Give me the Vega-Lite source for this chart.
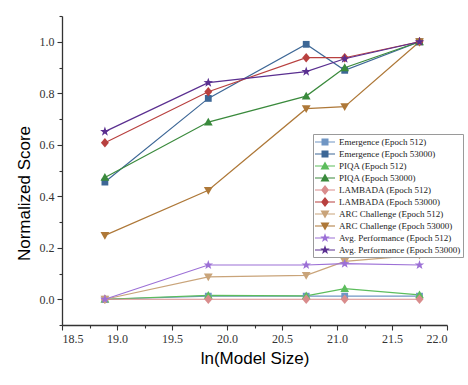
{
  "$schema": "https://vega.github.io/schema/vega-lite/v6.json",
  "autosize": "none",
  "width": 385,
  "height": 309,
  "padding": {"left": 62, "top": 16, "right": 21, "bottom": 60},
  "background": "white",
  "config": {
    "view": {"stroke": null},
    "axis": {"grid": false, "domainColor": "#333333", "domainWidth": 1.3, "tickColor": "#333333", "tickWidth": 1.1, "labelColor": "#333333", "titleColor": "#000000"}
  },
  "datasets": {
    "main": [
      {"series": "Emergence (Epoch 512)", "x": 18.89, "y": 0},
      {"series": "Emergence (Epoch 512)", "x": 19.83, "y": 0.012},
      {"series": "Emergence (Epoch 512)", "x": 20.72, "y": 0.012},
      {"series": "Emergence (Epoch 512)", "x": 21.07, "y": 0.012},
      {"series": "Emergence (Epoch 512)", "x": 21.75, "y": 0.012},
      {"series": "Emergence (Epoch 53000)", "x": 18.89, "y": 0.455},
      {"series": "Emergence (Epoch 53000)", "x": 19.83, "y": 0.78},
      {"series": "Emergence (Epoch 53000)", "x": 20.72, "y": 0.99},
      {"series": "Emergence (Epoch 53000)", "x": 21.07, "y": 0.889},
      {"series": "Emergence (Epoch 53000)", "x": 21.75, "y": 1.0},
      {"series": "PIQA (Epoch 512)", "x": 18.89, "y": 0},
      {"series": "PIQA (Epoch 512)", "x": 19.83, "y": 0.015},
      {"series": "PIQA (Epoch 512)", "x": 20.72, "y": 0.013},
      {"series": "PIQA (Epoch 512)", "x": 21.07, "y": 0.041},
      {"series": "PIQA (Epoch 512)", "x": 21.75, "y": 0.017},
      {"series": "PIQA (Epoch 53000)", "x": 18.89, "y": 0.473},
      {"series": "PIQA (Epoch 53000)", "x": 19.83, "y": 0.688},
      {"series": "PIQA (Epoch 53000)", "x": 20.72, "y": 0.789},
      {"series": "PIQA (Epoch 53000)", "x": 21.07, "y": 0.899},
      {"series": "PIQA (Epoch 53000)", "x": 21.75, "y": 1.0},
      {"series": "LAMBADA (Epoch 512)", "x": 18.89, "y": 0},
      {"series": "LAMBADA (Epoch 512)", "x": 19.83, "y": 0},
      {"series": "LAMBADA (Epoch 512)", "x": 20.72, "y": 0},
      {"series": "LAMBADA (Epoch 512)", "x": 21.07, "y": 0},
      {"series": "LAMBADA (Epoch 512)", "x": 21.75, "y": 0},
      {"series": "LAMBADA (Epoch 53000)", "x": 18.89, "y": 0.608},
      {"series": "LAMBADA (Epoch 53000)", "x": 19.83, "y": 0.806},
      {"series": "LAMBADA (Epoch 53000)", "x": 20.72, "y": 0.938},
      {"series": "LAMBADA (Epoch 53000)", "x": 21.07, "y": 0.938},
      {"series": "LAMBADA (Epoch 53000)", "x": 21.75, "y": 1.0},
      {"series": "ARC Challenge (Epoch 512)", "x": 18.89, "y": 0},
      {"series": "ARC Challenge (Epoch 512)", "x": 19.83, "y": 0.087},
      {"series": "ARC Challenge (Epoch 512)", "x": 20.72, "y": 0.093},
      {"series": "ARC Challenge (Epoch 512)", "x": 21.07, "y": 0.147},
      {"series": "ARC Challenge (Epoch 512)", "x": 21.75, "y": 0.171},
      {"series": "ARC Challenge (Epoch 53000)", "x": 18.89, "y": 0.248},
      {"series": "ARC Challenge (Epoch 53000)", "x": 19.83, "y": 0.423},
      {"series": "ARC Challenge (Epoch 53000)", "x": 20.72, "y": 0.74},
      {"series": "ARC Challenge (Epoch 53000)", "x": 21.07, "y": 0.748},
      {"series": "ARC Challenge (Epoch 53000)", "x": 21.75, "y": 1.0},
      {"series": "Avg. Performance (Epoch 512)", "x": 18.89, "y": 0},
      {"series": "Avg. Performance (Epoch 512)", "x": 19.83, "y": 0.133},
      {"series": "Avg. Performance (Epoch 512)", "x": 20.72, "y": 0.133},
      {"series": "Avg. Performance (Epoch 512)", "x": 21.07, "y": 0.138},
      {"series": "Avg. Performance (Epoch 512)", "x": 21.75, "y": 0.133},
      {"series": "Avg. Performance (Epoch 53000)", "x": 18.89, "y": 0.651},
      {"series": "Avg. Performance (Epoch 53000)", "x": 19.83, "y": 0.841},
      {"series": "Avg. Performance (Epoch 53000)", "x": 20.72, "y": 0.884},
      {"series": "Avg. Performance (Epoch 53000)", "x": 21.07, "y": 0.934},
      {"series": "Avg. Performance (Epoch 53000)", "x": 21.75, "y": 1.0}
    ]
  },
  "resolve": {
    "scale": {"color": "independent", "shape": "independent"},
    "axis": {"x": "independent", "y": "independent"}
  },
  "layer": [
    {
      "data": {"name": "main"},
      "mark": {"type": "line", "strokeWidth": 1.2},
      "encoding": {
        "x": {"field": "x", "type": "quantitative", "scale": {"domain": [18.5, 22.0], "nice": false, "zero": false},
          "axis": {"orient": "bottom", "values": [18.5, 19, 19.5, 20, 20.5, 21, 21.5, 22], "format": ".1f", "tickSize": 5, "labelPadding": 3, "labelFont": "Liberation Serif", "labelFontSize": 12, "title": "ln(Model Size)", "titleFont": "Liberation Sans", "titleFontSize": 17, "titleFontWeight": "normal", "titlePadding": 6}},
        "y": {"field": "y", "type": "quantitative", "scale": {"domain": [-0.1, 1.1], "nice": false, "zero": false},
          "axis": {"orient": "left", "values": [0, 0.2, 0.4, 0.6, 0.8, 1.0], "format": ".1f", "tickSize": 5, "labelPadding": 3, "labelFont": "Liberation Serif", "labelFontSize": 12, "title": "Normalized Score", "titleFont": "Liberation Sans", "titleFontSize": 17, "titleFontWeight": "normal", "titlePadding": 6, "titleY": 177}},
        "color": {"field": "series", "type": "nominal", "legend": null,
          "scale": {"domain": ["Emergence (Epoch 512)", "Emergence (Epoch 53000)", "PIQA (Epoch 512)", "PIQA (Epoch 53000)", "LAMBADA (Epoch 512)", "LAMBADA (Epoch 53000)", "ARC Challenge (Epoch 512)", "ARC Challenge (Epoch 53000)", "Avg. Performance (Epoch 512)", "Avg. Performance (Epoch 53000)"],
            "range": ["#7096c4", "#3d6796", "#5cbd5c", "#3a8a3c", "#d98c8c", "#b8403f", "#c9a47a", "#ae7838", "#9c70d6", "#5a2f90"]}}
      }
    },
    {
      "data": {"name": "main"},
      "mark": {"type": "point", "filled": true, "opacity": 1, "size": 64},
      "encoding": {
        "x": {"field": "x", "type": "quantitative", "scale": {"domain": [18.5, 22.0], "nice": false, "zero": false}, "axis": null},
        "y": {"field": "y", "type": "quantitative", "scale": {"domain": [-0.1, 1.1], "nice": false, "zero": false}, "axis": null},
        "color": {"field": "series", "type": "nominal", "legend": null,
          "scale": {"domain": ["Emergence (Epoch 512)", "Emergence (Epoch 53000)", "PIQA (Epoch 512)", "PIQA (Epoch 53000)", "LAMBADA (Epoch 512)", "LAMBADA (Epoch 53000)", "ARC Challenge (Epoch 512)", "ARC Challenge (Epoch 53000)", "Avg. Performance (Epoch 512)", "Avg. Performance (Epoch 53000)"],
            "range": ["#7096c4", "#3d6796", "#5cbd5c", "#3a8a3c", "#d98c8c", "#b8403f", "#c9a47a", "#ae7838", "#9c70d6", "#5a2f90"]}},
        "shape": {"field": "series", "type": "nominal", "legend": null,
          "scale": {"domain": ["Emergence (Epoch 512)", "Emergence (Epoch 53000)", "PIQA (Epoch 512)", "PIQA (Epoch 53000)", "LAMBADA (Epoch 512)", "LAMBADA (Epoch 53000)", "ARC Challenge (Epoch 512)", "ARC Challenge (Epoch 53000)", "Avg. Performance (Epoch 512)", "Avg. Performance (Epoch 53000)"],
            "range": ["M-0.85,-0.85H0.85V0.85H-0.85Z", "M-0.85,-0.85H0.85V0.85H-0.85Z", "M0,-1.1L1.1,0.85H-1.1Z", "M0,-1.1L1.1,0.85H-1.1Z", "M0,-1.2L1,0L0,1.2L-1,0Z", "M0,-1.2L1,0L0,1.2L-1,0Z", "M0,1.1L-1.1,-0.85H1.1Z", "M0,1.1L-1.1,-0.85H1.1Z", "M0,-1.25L0.2939,-0.4045L1.1889,-0.3863L0.4755,0.1545L0.7347,1.0113L0,0.5L-0.7347,1.0113L-0.4755,0.1545L-1.1889,-0.3863L-0.2939,-0.4045Z", "M0,-1.25L0.2939,-0.4045L1.1889,-0.3863L0.4755,0.1545L0.7347,1.0113L0,0.5L-0.7347,1.0113L-0.4755,0.1545L-1.1889,-0.3863L-0.2939,-0.4045Z"]}}
      }
    },
    {
      "data": {"name": "main"},
      "mark": {"type": "point", "opacity": 0},
      "encoding": {
        "x": {"field": "x", "type": "quantitative", "scale": {"domain": [18.5, 22.0], "nice": false, "zero": false},
          "axis": {"orient": "bottom", "values": [18.75, 19.25, 19.75, 20.25, 20.75, 21.25, 21.75], "labels": false, "domain": false, "tickSize": 3, "title": null}},
        "y": {"field": "y", "type": "quantitative", "scale": {"domain": [-0.1, 1.1], "nice": false, "zero": false},
          "axis": {"orient": "left", "values": [-0.1, 0.1, 0.3, 0.5, 0.7, 0.9, 1.1], "labels": false, "domain": false, "tickSize": 3, "title": null}}
      }
    },
    {
      "data": {"values": []},
      "mark": {"type": "point", "filled": true, "opacity": 1},
      "encoding": {
        "color": {"field": "series", "type": "nominal",
          "scale": {"domain": ["Emergence (Epoch 512)", "Emergence (Epoch 53000)", "PIQA (Epoch 512)", "PIQA (Epoch 53000)", "LAMBADA (Epoch 512)", "LAMBADA (Epoch 53000)", "ARC Challenge (Epoch 512)", "ARC Challenge (Epoch 53000)", "Avg. Performance (Epoch 512)", "Avg. Performance (Epoch 53000)"],
            "range": ["#7096c4", "#3d6796", "#5cbd5c", "#3a8a3c", "#d98c8c", "#b8403f", "#c9a47a", "#ae7838", "#9c70d6", "#5a2f90"]},
          "legend": {"title": null, "orient": "none", "legendX": 251, "legendY": 118, "strokeColor": "#9a9a9a", "fillColor": "white", "padding": 2, "rowPadding": 1, "symbolSize": 100, "symbolOffset": 4, "labelOffset": 8, "labelFont": "Liberation Serif", "labelFontSize": 9, "labelColor": "#222222", "labelLimit": 300}},
        "shape": {"field": "series", "type": "nominal",
          "scale": {"domain": ["Emergence (Epoch 512)", "Emergence (Epoch 53000)", "PIQA (Epoch 512)", "PIQA (Epoch 53000)", "LAMBADA (Epoch 512)", "LAMBADA (Epoch 53000)", "ARC Challenge (Epoch 512)", "ARC Challenge (Epoch 53000)", "Avg. Performance (Epoch 512)", "Avg. Performance (Epoch 53000)"],
            "range": ["M-2,-0.12H2V0.12H-2ZM-0.7,-0.7H0.7V0.7H-0.7Z", "M-2,-0.12H2V0.12H-2ZM-0.7,-0.7H0.7V0.7H-0.7Z", "M-2,-0.12H2V0.12H-2ZM0,-0.9L0.9,0.7H-0.9Z", "M-2,-0.12H2V0.12H-2ZM0,-0.9L0.9,0.7H-0.9Z", "M-2,-0.12H2V0.12H-2ZM0,-1L0.8,0L0,1L-0.8,0Z", "M-2,-0.12H2V0.12H-2ZM0,-1L0.8,0L0,1L-0.8,0Z", "M-2,-0.12H2V0.12H-2ZM0,0.9L-0.9,-0.7H0.9Z", "M-2,-0.12H2V0.12H-2ZM0,0.9L-0.9,-0.7H0.9Z", "M-2,-0.12H2V0.12H-2ZM0,-1L0.2351,-0.3236L0.9511,-0.309L0.3804,0.1236L0.5878,0.809L0,0.4L-0.5878,0.809L-0.3804,0.1236L-0.9511,-0.309L-0.2351,-0.3236Z", "M-2,-0.12H2V0.12H-2ZM0,-1L0.2351,-0.3236L0.9511,-0.309L0.3804,0.1236L0.5878,0.809L0,0.4L-0.5878,0.809L-0.3804,0.1236L-0.9511,-0.309L-0.2351,-0.3236Z"]},
          "legend": {"title": null}}
      }
    }
  ]
}
